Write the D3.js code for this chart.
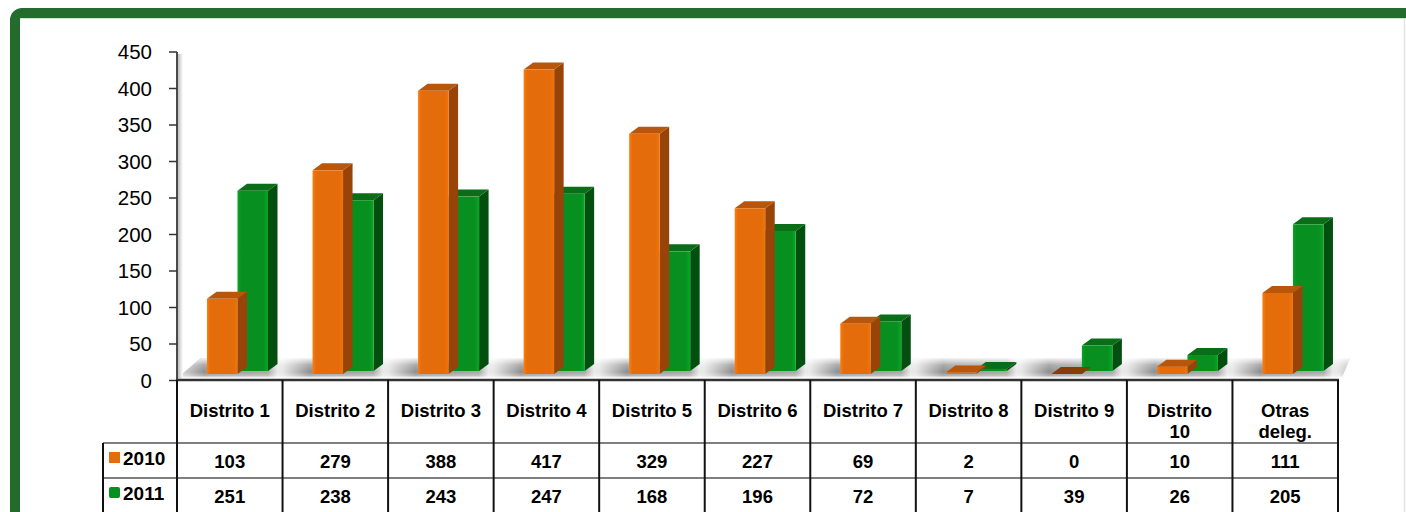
<!DOCTYPE html>
<html>
<head>
<meta charset="utf-8">
<script src="https://cdn.jsdelivr.net/npm/d3@7"></script>
<style>
  body { margin: 0; background: #fff; }
  svg { display: block; font-family: 'Liberation Sans', Arial, sans-serif; }
</style>
</head>
<body>
<div id="chart"></div>
<script>
// data
var categories = ['Distrito 1', 'Distrito 2', 'Distrito 3', 'Distrito 4', 'Distrito 5',
  'Distrito 6', 'Distrito 7', 'Distrito 8', 'Distrito 9', 'Distrito 10', 'Otras deleg.']
var categoryLines = [['Distrito 1'], ['Distrito 2'], ['Distrito 3'], ['Distrito 4'], ['Distrito 5'],
  ['Distrito 6'], ['Distrito 7'], ['Distrito 8'], ['Distrito 9'], ['Distrito', '10'], ['Otras', 'deleg.']]
var seriesNames = ['2010', '2011']
var values2010 = [103, 279, 388, 417, 329, 227, 69, 2, 0, 10, 111]
var values2011 = [251, 238, 243, 247, 168, 196, 72, 7, 39, 26, 205]
var yTicks = [0, 50, 100, 150, 200, 250, 300, 350, 400, 450]

// layout
var chart = {}
chart.width = 1406
chart.height = 512
chart.left = 177
chart.right = 1338
chart.top = 52
chart.zero = 380.5
chart.depthX = 9.5
chart.depthY = -7

var colors = {
  '2010': { front: '#e46c0a', top: '#b8570b', side: '#984307' },
  '2011': { front: '#07901f', top: '#0a6e18', side: '#034f0f' }
}

var svg = d3.select('#chart').append('svg')
  .attr('width', chart.width)
  .attr('height', chart.height)

var defs = svg.append('defs')

// green frame
svg.append('rect')
  .attr('x', 15).attr('y', 13)
  .attr('width', 1420).attr('height', 560)
  .attr('rx', 7)
  .attr('fill', '#fff')
  .attr('stroke', '#246b2e')
  .attr('stroke-width', 10)
svg.append('line')
  .attr('x1', 20).attr('x2', 1406).attr('y1', 18.5).attr('y2', 18.5)
  .attr('stroke', '#cfe3d2').attr('stroke-width', 1)
svg.append('line')
  .attr('x1', 1404.5).attr('x2', 1404.5).attr('y1', 18).attr('y2', 512)
  .attr('stroke', '#e4e4e4').attr('stroke-width', 1.5)

// scales
var x0 = d3.scaleBand().domain(categories).range([chart.left, chart.right])
var x1 = d3.scaleBand().domain(seriesNames).range([30, 91])
var y = d3.scaleLinear().domain([0, 450]).range([chart.zero, chart.top])

// floor gradient, repeated per category (shadow just left of each bar pair)
var floorGrad = defs.append('linearGradient')
  .attr('id', 'floorGrad')
  .attr('gradientUnits', 'userSpaceOnUse')
  .attr('x1', chart.left).attr('x2', chart.left + x0.bandwidth())
  .attr('y1', 0).attr('y2', 0)
  .attr('spreadMethod', 'repeat')
var floorStops = [[0, '#e6e6e6'], [0.1, '#c4c4c4'], [0.26, '#8e8e8e'], [0.32, '#969696'],
  [0.86, '#a8a8a8'], [0.95, '#e8e8e8'], [1, '#e6e6e6']]
floorStops.forEach(function (s) {
  floorGrad.append('stop').attr('offset', s[0]).attr('stop-color', s[1])
})
var floorFade = defs.append('linearGradient')
  .attr('id', 'floorFade')
  .attr('x1', 0).attr('x2', 0).attr('y1', 0).attr('y2', 1)
floorFade.append('stop').attr('offset', 0).attr('stop-color', '#fff').attr('stop-opacity', 0.9)
floorFade.append('stop').attr('offset', 0.35).attr('stop-color', '#fff').attr('stop-opacity', 0.25)
floorFade.append('stop').attr('offset', 0.7).attr('stop-color', '#fff').attr('stop-opacity', 0)
floorFade.append('stop').attr('offset', 0.88).attr('stop-color', '#fff').attr('stop-opacity', 0.3)
floorFade.append('stop').attr('offset', 1).attr('stop-color', '#fff').attr('stop-opacity', 1)

var floorPts = [[chart.left, 378], [chart.right + 4, 378], [chart.right + 12, 358], [chart.left + 24, 358]]
svg.append('polygon')
  .attr('points', floorPts.map(function (p) { return p.join(',') }).join(' '))
  .attr('fill', 'url(#floorGrad)')
svg.append('polygon')
  .attr('points', floorPts.map(function (p) { return p.join(',') }).join(' '))
  .attr('fill', 'url(#floorFade)')

// wall edge shading next to the axis
var wallGrad = defs.append('linearGradient').attr('id', 'wallGrad')
wallGrad.append('stop').attr('offset', 0).attr('stop-color', '#bdbdbd')
wallGrad.append('stop').attr('offset', 1).attr('stop-color', '#ffffff')
svg.append('rect')
  .attr('x', chart.left + 1).attr('y', chart.top + 2)
  .attr('width', 5).attr('height', chart.zero - chart.top - 4)
  .attr('fill', 'url(#wallGrad)')

// front-face gradients
seriesNames.forEach(function (s) {
  var g = defs.append('linearGradient').attr('id', 'front' + s)
  var c = d3.color(colors[s].front)
  g.append('stop').attr('offset', 0).attr('stop-color', c.brighter(0.35))
  g.append('stop').attr('offset', 0.12).attr('stop-color', c)
  g.append('stop').attr('offset', 0.85).attr('stop-color', c)
  g.append('stop').attr('offset', 1).attr('stop-color', c.brighter(s === '2011' ? 0.4 : 0.15))
})

// bars
var baseY = { '2010': 374, '2011': 371 }
var rows = categories.map(function (c, i) {
  return { cat: c, vals: [{ s: '2010', v: values2010[i] }, { s: '2011', v: values2011[i] }] }
})

var groups = svg.append('g').attr('id', 'g-bars')
  .selectAll('g')
  .data(rows)
  .enter()
  .append('g')
  .attr('transform', function (d) { return 'translate(' + x0(d.cat) + ',0)' })

// draw 2011 first (right) so the 2010 side hides behind it properly
groups.each(function (d) {
  var g = d3.select(this)
  var dx = chart.depthX
  var dy = chart.depthY
  d.vals.slice().reverse().forEach(function (b) {
    var x = x1(b.s)
    var w = x1.bandwidth()
    var top = y(b.v) - 6.5
    var bottom = baseY[b.s]
    if (top > bottom) top = bottom
    var h = bottom - top
    // side face
    g.append('polygon')
      .attr('points', [[x + w, top], [x + w + dx, top + dy], [x + w + dx, bottom + dy], [x + w, bottom]].map(function (p) { return p.join(',') }).join(' '))
      .attr('fill', colors[b.s].side)
    // top face
    g.append('polygon')
      .attr('points', [[x, top], [x + dx, top + dy], [x + w + dx, top + dy], [x + w, top]].map(function (p) { return p.join(',') }).join(' '))
      .attr('fill', b.v === 0 ? '#8a3c08' : colors[b.s].top)
    // front face
    if (h > 0) {
      g.append('rect')
        .attr('x', x).attr('y', top)
        .attr('width', w).attr('height', h)
        .attr('fill', 'url(#front' + b.s + ')')
    }
  })
})

// y axis
var yAxis = svg.append('g')
yAxis.append('line')
  .attr('x1', chart.left).attr('x2', chart.left)
  .attr('y1', chart.top).attr('y2', chart.zero)
  .attr('stroke', '#4a4a4a').attr('stroke-width', 2)
yAxis.selectAll('.tick')
  .data(yTicks)
  .enter()
  .append('line')
  .attr('x1', 169).attr('x2', chart.left)
  .attr('y1', function (d) { return y(d) }).attr('y2', function (d) { return y(d) })
  .attr('stroke', '#333').attr('stroke-width', 1.5)
yAxis.selectAll('text')
  .data(yTicks)
  .enter()
  .append('text')
  .attr('x', 152)
  .attr('y', function (d) { return y(d) + 7 })
  .attr('text-anchor', 'end')
  .attr('font-size', 20.5)
  .attr('fill', '#000')
  .text(function (d) { return d })

// data table
var table = svg.append('g')
var rowY = [380, 443, 478, 512]
var legendLeft = 103

// horizontal lines
table.append('line')
  .attr('x1', chart.left - 1).attr('x2', chart.right + 1)
  .attr('y1', rowY[0]).attr('y2', rowY[0])
  .attr('stroke', '#333').attr('stroke-width', 2.5)
;[rowY[1], rowY[2]].forEach(function (yy) {
  table.append('line')
    .attr('x1', legendLeft).attr('x2', chart.right)
    .attr('y1', yy).attr('y2', yy)
    .attr('stroke', '#7f7f7f').attr('stroke-width', 2)
})
// vertical lines
var edges = categories.map(function (c) { return x0(c) }).concat([chart.right])
table.selectAll('.vline')
  .data(edges)
  .enter()
  .append('line')
  .attr('x1', function (d) { return d }).attr('x2', function (d) { return d })
  .attr('y1', rowY[0]).attr('y2', rowY[3])
  .attr('stroke', '#111').attr('stroke-width', 2)
table.append('line')
  .attr('x1', legendLeft).attr('x2', legendLeft)
  .attr('y1', rowY[1]).attr('y2', rowY[3])
  .attr('stroke', '#111').attr('stroke-width', 2)

// category labels
table.selectAll('.catLabel')
  .data(categoryLines)
  .enter()
  .append('text')
  .attr('class', 'catLabel')
  .attr('text-anchor', 'middle')
  .attr('font-size', 18.5)
  .attr('font-weight', 'bold')
  .attr('fill', '#000')
  .each(function (d, i) {
    var t = d3.select(this)
    d.forEach(function (line, j) {
      t.append('tspan')
        .attr('x', x0(categories[i]) + x0.bandwidth() / 2)
        .attr('y', 416.5 + j * 21.5)
        .text(line)
    })
  })

// value rows
var valueRows = [values2010, values2011]
valueRows.forEach(function (vals, r) {
  table.selectAll('.val' + r)
    .data(vals)
    .enter()
    .append('text')
    .attr('x', function (d, i) { return x0(categories[i]) + x0.bandwidth() / 2 })
    .attr('y', r === 0 ? 468 : 503)
    .attr('text-anchor', 'middle')
    .attr('font-size', 18.5)
    .attr('font-weight', 'bold')
    .attr('fill', '#000')
    .text(function (d) { return d })
})

// legend keys
seriesNames.forEach(function (s, r) {
  var cy = r === 0 ? 457.5 : 492.5
  table.append('rect')
    .attr('x', 109).attr('y', cy - 5.5)
    .attr('width', 11).attr('height', 11)
    .attr('rx', s === '2011' ? 2 : 0)
    .attr('fill', colors[s].front)
  table.append('text')
    .attr('x', 123).attr('y', cy + 7)
    .attr('font-size', 19)
    .attr('font-weight', 'bold')
    .attr('fill', '#000')
    .text(s)
})
</script>
</body>
</html>
